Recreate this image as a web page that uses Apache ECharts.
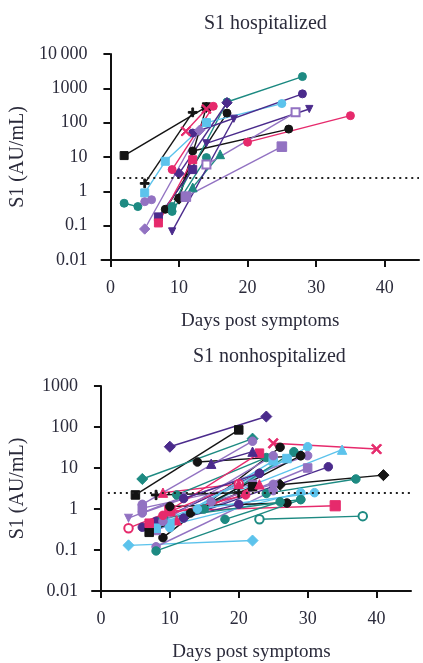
<!DOCTYPE html>
<html><head><meta charset="utf-8">
<script src="https://cdn.jsdelivr.net/npm/echarts@6/dist/echarts.min.js"></script>
<style>html,body{margin:0;padding:0;background:#fff}#c{width:423px;height:663px}</style>
</head><body><div id="c"></div>
<script>
// ---------- data: S1 hospitalized ----------
const hospDays = [
  [2,14],[5,12],[8,17],[10,12,26],[10,14],
  [2,4],[9,17,28],[9,14],[12,16],
  [5,8,14],[14,25],
  [7,12],[10,17],[12,28],[9,18],[14,29],
  [5,13],[5,6],[14,27],[11,25],
  [7,12],[9,15],[20,35],[11,14]
];
const hospAU = [
  [11,290],[1.7,200],[0.3,190],[0.64,15,65],[0.6,280],
  [0.45,0.36],[0.36,400,2200],[0.26,9.6],[1.3,12],
  [0.9,7.5,100],[100,360],
  [0.18,4.3],[3.3,380],[50,690],[0.068,130],[25,250],
  [0.08,60],[0.5,0.57],[6,200],[0.7,20],
  [0.12,8.3],[4.3,300],[27,160],[56,250]
];
const hospColor = [
  'black','black','black','black','black',
  'teal','teal','teal','teal',
  'lightblue','lightblue',
  'darkpurple','darkpurple','darkpurple','darkpurple','darkpurple',
  'lavender','lavender','lavender','lavender',
  'pink','pink','pink','pink'
];
const hospMarker = [
  'rect','plus','circle','circle','diamond',
  'circle','circle','circle','triangle',
  'rect','circle',
  'rect','diamond','circle','tridown','tridown',
  'diamond','circle','emptyRect','cap',
  'rect','circle','circle','x'
];

// ---------- data: S1 nonhospitalized ----------
const nonhospDays = [
  [10,24],[5,20],[14,29],[6,22],[25,40],[9,26],[26,41],[24,37],
  [8,30],[12,33],[8,35],[10,30],[6,30],[8,23],[10,34],[23,38],
  [4,22],[8,25],[8,29],[7,29],[10,27],[6,20],[4,20],[4,12],
  [6,22],[8,27],[7,22],[11,23],[8,20],[9,20],[11,24],[16,25],
  [15,28],[10,25],[7,23],[6,22],[18,26],[16,22],[13,29],[9,29],
  [9,25],[12,23],[9,21],[14,31]
];
const nonhospAU = [
  [33,180],[2.2,85],[14,20],[5.4,52],[40,29],[0.2,32],[3.9,6.7],[2.4,5.4],
  [0.3,10],[0.6,10.7],[0.45,28],[0.35,33],[0.8,20],[0.5,7.4],[0.9,1.2],[0.56,0.67],
  [0.13,0.17],[0.12,2.8],[0.095,1.7],[0.3,2.5],[1.15,1.4],[0.36,1.3],[0.34,4.1],[0.6,2],
  [1.05,4],[0.34,17],[0.27,3.5],[0.53,4],[2.2,2.5],[2.5,4.1],[2.2,18],[1.5,4],
  [1,25],[0.45,15],[0.45,23],[1.3,45],[0.56,1.5],[12.7,25],[0.8,20],[0.6,1.7],
  [0.5,20],[1.8,7.4],[0.7,2.2],[1,2.5]
];
const nonhospColor = [
  'darkpurple','black','black','teal','pink','black','black','teal',
  'lavender','darkpurple','lightblue','lightblue','lavender','darkpurple','pink','teal',
  'lightblue','lavender','teal','lightblue','black','darkpurple','pink','lavender',
  'lavender','lightblue','black','pink','black','pink','teal','lavender',
  'teal','lightblue','pink','lavender','teal','darkpurple','black','teal',
  'lavender','darkpurple','pink','lightblue'
];
const nonhospMarker = [
  'diamond','rect','circle','diamond','x','circle','diamond','circle',
  'rect','circle','triangle','circle','circle','circle','cap','emptyCircle',
  'diamond','circle','circle','circle','circle','circle','emptyCircle','tridown',
  'rect','rect','rect','triangle','plus','triangle','circle','circle',
  'circle','rect','rect','circle','circle','triangle','circle','circle',
  'circle','circle','circle','circle'
];

const cutoff = 2.5;
const cutoffRange = [1, 45];
const xTicks = [0,10,20,30,40];
const hospYLabels = ['0.01','0.1','1','10','100','1000','10\u2009000'];
const nonhospYLabels = ['0.01','0.1','1','10','100','1000'];

// ---------- styles ----------
const COL = {black:'#141414', teal:'#1d8a82', darkpurple:'#4b2b8c', lavender:'#9272c2', pink:'#e62a6c', lightblue:'#5cc3ec'};
const SYM = {
  circle:'circle', rect:'rect', diamond:'diamond', triangle:'triangle',
  emptyCircle:'emptyCircle', emptyRect:'emptyRect',
  tridown:'path://M0,0H10L5,9Z',
  plus:'path://M4,0H6V4H10V6H6V10H4V6H0V4H4Z',
  x:'path://M0,1.2L1.2,0L5,3.8L8.8,0L10,1.2L6.2,5L10,8.8L8.8,10L5,6.2L1.2,10L0,8.8L3.8,5Z',
  cap:'path://M3.8,0H6.2V10H3.8Z'
};
const SCALE = {diamond:1.3, cap:1.2, x:1.2, plus:1.1, tridown:0.9, triangle:1.1};
const FONT = "'Liberation Serif','DejaVu Serif',serif";
const TXT = '#2b2b3b';

function buildSeries(days, vals, colors, markers, idx, size) {
  return days.map((d, i) => ({
    type: 'line', xAxisIndex: idx, yAxisIndex: idx,
    data: d.map((x, j) => [x, vals[i][j]]),
    symbol: SYM[markers[i]],
    symbolSize: size * (SCALE[markers[i]] || 1),
    lineStyle: {color: COL[colors[i]], width: 1.4},
    itemStyle: {color: COL[colors[i]], borderColor: COL[colors[i]]},
    emphasis: {disabled: true}, silent: true, animation: false
  }));
}

const sTop = buildSeries(hospDays, hospAU, hospColor, hospMarker, 0, 8);
const sBot = buildSeries(nonhospDays, nonhospAU, nonhospColor, nonhospMarker, 1, 8.5);
function cutLine() {
  return {silent: true, symbol: ['none','none'], label: {show: false}, animation: false,
    lineStyle: {color: '#222', type: [2,4], width: 2},
    data: [[{coord: [cutoffRange[0], cutoff]}, {coord: [cutoffRange[1], cutoff]}]]};
}
sTop[0].markLine = cutLine();
sBot[0].markLine = cutLine();

function xAx(i) {
  return {
    type: 'value', gridIndex: i, min: -1.3, max: 45,
    name: 'Days post symptoms', nameLocation: 'middle', nameGap: 52,
    nameTextStyle: {fontFamily: FONT, fontSize: 19, color: TXT},
    axisLine: {onZero: false, lineStyle: {color: '#111', width: 2}},
    axisTick: {customValues: xTicks, length: 7, lineStyle: {width: 2, color: '#111'}},
    axisLabel: {customValues: xTicks, fontFamily: FONT, fontSize: 18, color: TXT, margin: 19},
    splitLine: {show: false}
  };
}
function yAx(i, max, labels) {
  return {
    type: 'log', logBase: 10, gridIndex: i, min: 0.01, max: max,
    name: 'S1 (AU/mL)', nameLocation: 'middle', nameGap: 64,
    nameTextStyle: {fontFamily: FONT, fontSize: 20, color: TXT},
    axisLine: {onZero: true, lineStyle: {color: '#111', width: 2}},
    axisTick: {length: 7, lineStyle: {width: 2, color: '#111'}},
    axisLabel: {fontFamily: FONT, fontSize: 18, color: TXT, margin: 14,
      formatter: v => labels[Math.round(Math.log10(v)) + 2]},
    splitLine: {show: false}
  };
}

const chart = echarts.init(document.getElementById('c'), null, {renderer: 'canvas'});
chart.setOption({
  backgroundColor: '#fff',
  animation: false,
  title: [
    {text: 'S1 hospitalized', left: 199, top: 9, textStyle: {fontFamily: FONT, fontSize: 20, fontWeight: 'normal', color: TXT}},
    {text: 'S1 nonhospitalized', left: 188, top: 342, textStyle: {fontFamily: FONT, fontSize: 20, fontWeight: 'normal', color: TXT}}
  ],
  grid: [
    {left: 98, top: 54, width: 321, height: 206},
    {left: 90, top: 386, width: 321, height: 210}
  ],
  xAxis: [xAx(0), xAx(1)],
  yAxis: [yAx(0, 10000, hospYLabels), yAx(1, 1000, nonhospYLabels)],
  series: sTop.concat(sBot)
});
</script></body></html>
